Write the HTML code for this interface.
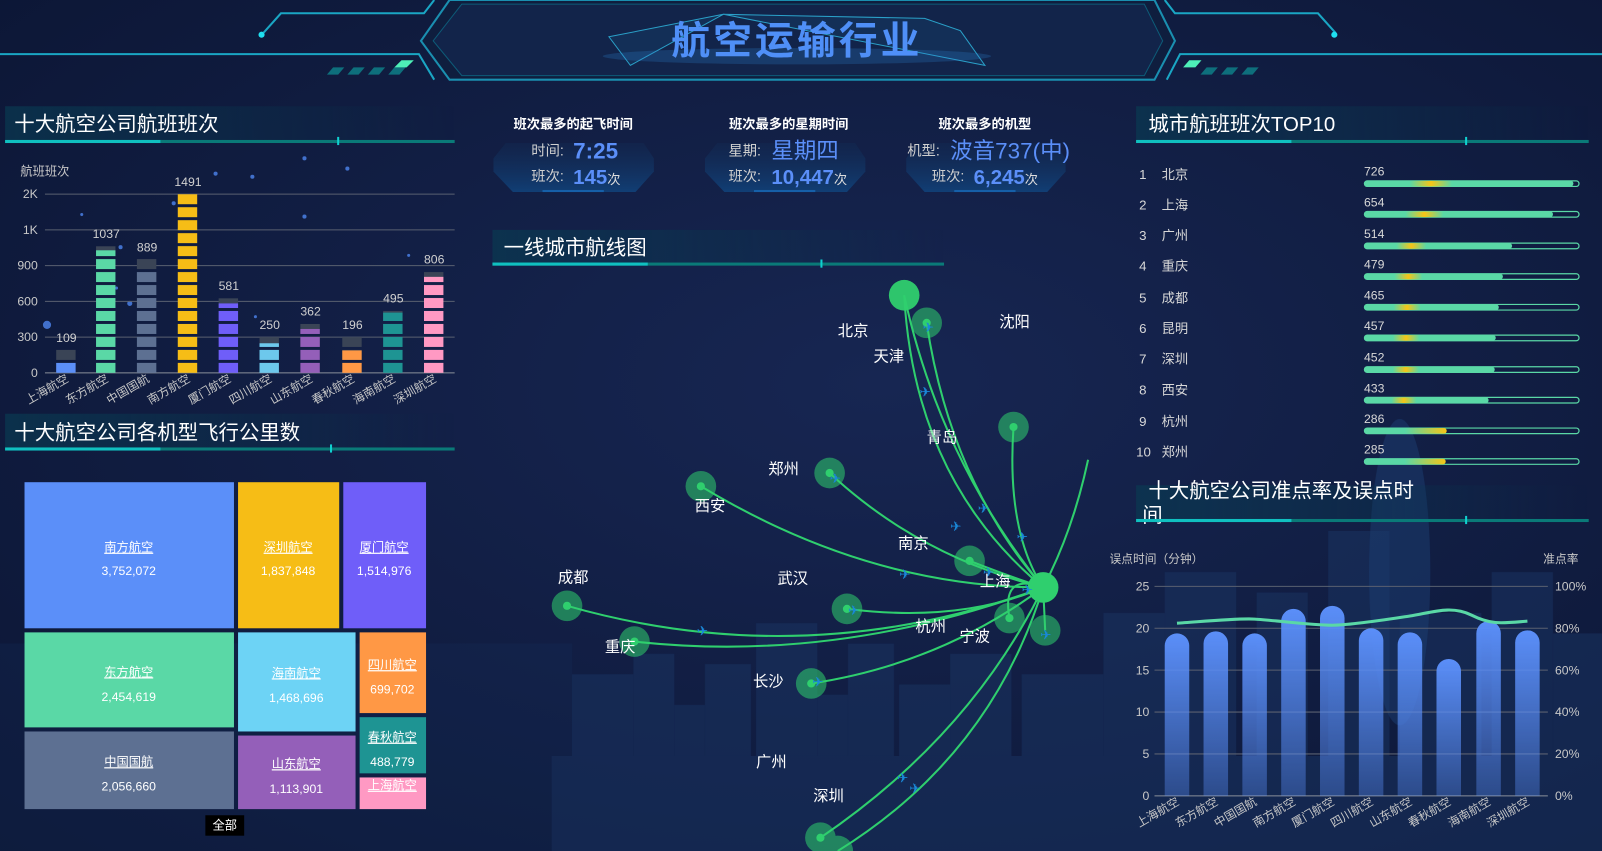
<!DOCTYPE html>
<html><head><meta charset="utf-8"><style>
html,body{margin:0;padding:0;background:#0e1a3c;overflow:hidden}
svg{display:block}
text{font-family:"Liberation Sans","Noto Sans CJK SC",sans-serif}
</style></head><body>
<svg width="1602" height="851" viewBox="0 0 1568 833" preserveAspectRatio="none" xmlns="http://www.w3.org/2000/svg">
<defs>
<radialGradient id="bg" cx="0.55" cy="0.45" r="0.8"><stop offset="0" stop-color="#172652"/><stop offset="1" stop-color="#0b1533"/></radialGradient>
<linearGradient id="hl" x1="0" x2="1"><stop offset="0" stop-color="#0a3a52" stop-opacity="0.7"/><stop offset="1" stop-color="#0a3a52" stop-opacity="0"/></linearGradient>
<linearGradient id="bb" x1="0" y1="0" x2="0" y2="1"><stop offset="0" stop-color="#5b8ff9"/><stop offset="1" stop-color="#5b8ff9" stop-opacity="0.35"/></linearGradient>
<linearGradient id="box" x1="0" y1="0" x2="0" y2="1"><stop offset="0" stop-color="#13305a" stop-opacity="0.3"/><stop offset="1" stop-color="#11427a" stop-opacity="0.9"/></linearGradient>
<linearGradient id="pg" x1="0" x2="1"><stop offset="0" stop-color="#5ad8a6"/><stop offset="0.22" stop-color="#5ad8a6"/><stop offset="0.32" stop-color="#f6c516"/><stop offset="0.42" stop-color="#5ad8a6"/><stop offset="1" stop-color="#5ad8a6"/></linearGradient>
<pattern id="seg" patternUnits="userSpaceOnUse" x="0" y="365" width="20" height="12.7"><rect x="0" y="2.9" width="20" height="9.8" fill="#fff"/></pattern>
<mask id="segm"><rect x="0" y="150" width="460" height="220" fill="url(#seg)"/></mask>
</defs>
<rect width="1568" height="833" fill="url(#bg)"/>
<!-- city silhouette -->
<g fill="#1a3462" opacity="0.55">
<rect x="560" y="660" width="60" height="173"/><rect x="620" y="640" width="40" height="193"/><rect x="660" y="690" width="30" height="143"/><rect x="690" y="650" width="45" height="183"/><rect x="740" y="610" width="60" height="223"/><rect x="800" y="680" width="30" height="153"/><rect x="830" y="630" width="45" height="203"/><rect x="880" y="670" width="50" height="163"/><rect x="930" y="640" width="60" height="193"/><rect x="1000" y="660" width="80" height="173"/><rect x="1080" y="600" width="60" height="233"/><rect x="1140" y="560" width="70" height="273"/><rect x="1230" y="580" width="50" height="253"/><rect x="1300" y="520" width="60" height="313"/><rect x="1370" y="600" width="80" height="233"/><rect x="1460" y="560" width="60" height="273"/><rect x="1520" y="620" width="48" height="213"/>
<rect x="0" y="630" width="560" height="203" opacity="0.4"/>
<rect x="540" y="740" width="1028" height="93"/>
</g>
<ellipse cx="1370" cy="560" rx="30" ry="150" fill="#1c3d72" opacity="0.5"/>
<!-- stars -->
<g fill="#4e86f0" opacity="0.8">
<circle cx="46" cy="318" r="4"/><circle cx="127" cy="297" r="2.5"/><circle cx="211" cy="170" r="2"/><circle cx="247" cy="173" r="2"/><circle cx="298" cy="155" r="2"/><circle cx="340" cy="165" r="2"/><circle cx="298" cy="212" r="2"/><circle cx="118" cy="242" r="2"/><circle cx="170" cy="199" r="2"/><circle cx="114" cy="282" r="1.5"/><circle cx="80" cy="210" r="1.5"/><circle cx="250" cy="310" r="1.5"/><circle cx="400" cy="250" r="1.5"/></g>

<!-- HEADER -->
<path d="M440 0 L1130 0 L1150 40 L1130 78 L440 78 L412 40 Z" fill="#0f1e3e" stroke="#1a8fb0" stroke-width="2"/>
<path d="M452 4 L1120 4 L1138 40 L1120 74 L452 74 L424 40 Z" fill="#12244a" stroke="#0d5b78" stroke-width="1"/>
<g stroke="#1aa6c4" stroke-width="2" fill="none">
<path d="M0 53 L410 53 L425 78"/><path d="M258 32 L275 13 L415 13 L425 0"/>
<path d="M1568 53 L1155 53 L1142 78"/><path d="M1307 32 L1290 13 L1150 13 L1140 0"/>
</g>
<circle cx="256" cy="34" r="3" fill="#1fe0f0"/><circle cx="1306" cy="34" r="3" fill="#1fe0f0"/>
<g fill="#0e6f7c"><path d="M320 73 L326 66 L337 66 L331 73Z"/><path d="M340 73 L346 66 L357 66 L351 73Z"/><path d="M360 73 L366 66 L377 66 L371 73Z"/><path d="M380 73 L386 66 L397 66 L391 73Z"/>
<path d="M1175 73 L1181 66 L1192 66 L1186 73Z"/><path d="M1195 73 L1201 66 L1212 66 L1206 73Z"/><path d="M1215 73 L1221 66 L1232 66 L1226 73Z"/></g>
<path d="M386 66 L398 66 L405 59 L393 59Z" fill="#4ef0b8"/><path d="M1158 66 L1170 66 L1176 59 L1164 59Z" fill="#4ef0b8"/>
<g stroke="#2aa0c8" stroke-width="1" fill="#1a6fa0" fill-opacity="0.15"><path d="M596 36 L708 14 L617 64 Z"/><path d="M708 14 L905 18 L940 30 L964 64 Z"/></g>
<ellipse cx="780" cy="55" rx="190" ry="8" fill="#2a7fd0" opacity="0.25"/>
<text x="780" y="53" font-size="38" font-weight="bold" fill="#4f8ff7" text-anchor="middle" letter-spacing="3">航空运输行业</text>

<!-- SECTION TITLES -->
<g font-size="20" fill="#ffffff">
<rect x="5" y="104" width="440" height="34" fill="url(#hl)"/>
<text x="14" y="128">十大航空公司航班班次</text>
<rect x="5" y="405" width="440" height="34" fill="url(#hl)"/>
<text x="14" y="430">十大航空公司各机型飞行公里数</text>
<rect x="482" y="225" width="442" height="33" fill="url(#hl)"/>
<text x="493" y="249">一线城市航线图</text>
<rect x="1112" y="104" width="443" height="34" fill="url(#hl)"/>
<text x="1124" y="128">城市航班班次TOP10</text>
<rect x="1112" y="475" width="443" height="34" fill="url(#hl)"/>
<text x="1124" y="487">十大航空公司准点率及误点时</text>
<text x="1118" y="511">间</text>
</g>
<g>
<rect x="5" y="137" width="440" height="3" fill="#0a7a78"/><rect x="5" y="137" width="152" height="3" fill="#10c0c0"/><rect x="330" y="134" width="2" height="8" fill="#10d0d0"/>
<rect x="5" y="438" width="440" height="3" fill="#0a7a78"/><rect x="5" y="438" width="152" height="3" fill="#10c0c0"/><rect x="323" y="435" width="2" height="8" fill="#10d0d0"/>
<rect x="482" y="257" width="442" height="3" fill="#0a7a78"/><rect x="482" y="257" width="152" height="3" fill="#10c0c0"/><rect x="803" y="254" width="2" height="8" fill="#10d0d0"/>
<rect x="1112" y="137" width="443" height="3" fill="#0a7a78"/><rect x="1112" y="137" width="152" height="3" fill="#10c0c0"/><rect x="1434" y="134" width="2" height="8" fill="#10d0d0"/>
<rect x="1112" y="508" width="443" height="3" fill="#0a7a78"/><rect x="1112" y="508" width="152" height="3" fill="#10c0c0"/><rect x="1434" y="505" width="2" height="8" fill="#10d0d0"/>
</g>

<!-- CHART 1 -->
<text x="20" y="172" font-size="12" fill="#c8c8c8">航班班次</text>
<g stroke="#5a6070" stroke-width="1">
<line x1="44" y1="190" x2="445" y2="190"/><line x1="44" y1="225" x2="445" y2="225"/><line x1="44" y1="260" x2="445" y2="260"/><line x1="44" y1="295" x2="445" y2="295"/><line x1="44" y1="330" x2="445" y2="330"/><line x1="44" y1="365" x2="445" y2="365" stroke="#8a909a"/></g>
<g font-size="12" fill="#c8c8c8" text-anchor="end">
<text x="37" y="194">2K</text><text x="37" y="229">1K</text><text x="37" y="264">900</text><text x="37" y="299">600</text><text x="37" y="334">300</text><text x="37" y="369">0</text></g>
<g mask="url(#segm)">
<g fill="#3a4456">
<rect x="55" y="342" width="19" height="23"/><rect x="94" y="241" width="19" height="24"/><rect x="134" y="253" width="19" height="24"/><rect x="214" y="292" width="19" height="24"/><rect x="254" y="330" width="19" height="24"/><rect x="294" y="317" width="19" height="24"/><rect x="335" y="330" width="19" height="24"/><rect x="375" y="304" width="19" height="24"/><rect x="415" y="266" width="19" height="24"/></g>
<rect x="55" y="355" width="19" height="10" fill="#5b8ff9"/>
<rect x="94" y="245" width="19" height="120" fill="#5ad8a6"/>
<rect x="134" y="266" width="19" height="99" fill="#5d7092"/>
<rect x="174" y="190" width="19" height="175" fill="#f6bd16"/>
<rect x="214" y="297" width="19" height="68" fill="#6f5ef9"/>
<rect x="254" y="336" width="19" height="29" fill="#6dc8ec"/>
<rect x="294" y="322" width="19" height="43" fill="#945fb9"/>
<rect x="335" y="343" width="19" height="22" fill="#ff9845"/>
<rect x="375" y="306" width="19" height="59" fill="#1e9493"/>
<rect x="415" y="271" width="19" height="94" fill="#ff99c3"/>
</g>
<g font-size="12" fill="#d0d0d0" text-anchor="middle">
<text x="65" y="335">109</text><text x="104" y="233">1037</text><text x="144" y="246">889</text><text x="184" y="182">1491</text><text x="224" y="284">581</text><text x="264" y="322">250</text><text x="304" y="309">362</text><text x="345" y="322">196</text><text x="385" y="296">495</text><text x="425" y="258">806</text></g>
<g font-size="11.5" fill="#c8c8c8" text-anchor="end">
<text transform="translate(68 373) rotate(-30)">上海航空</text><text transform="translate(107 373) rotate(-30)">东方航空</text><text transform="translate(147 373) rotate(-30)">中国国航</text><text transform="translate(187 373) rotate(-30)">南方航空</text><text transform="translate(227 373) rotate(-30)">厦门航空</text><text transform="translate(267 373) rotate(-30)">四川航空</text><text transform="translate(307 373) rotate(-30)">山东航空</text><text transform="translate(348 373) rotate(-30)">春秋航空</text><text transform="translate(388 373) rotate(-30)">海南航空</text><text transform="translate(428 373) rotate(-30)">深圳航空</text></g>

<!-- TREEMAP -->
<rect x="24" y="472" width="205" height="143" fill="#5b8ff9"/>
<rect x="233" y="472" width="99" height="143" fill="#f6bd16"/>
<rect x="336" y="472" width="81" height="143" fill="#6f5ef9"/>
<rect x="24" y="619" width="205" height="93" fill="#5ad8a6"/>
<rect x="24" y="716" width="205" height="76" fill="#5d7092"/>
<rect x="233" y="619" width="115" height="97" fill="#6dd3f5"/>
<rect x="233" y="720" width="115" height="72" fill="#945fb9"/>
<rect x="352" y="619" width="65" height="79" fill="#ff9845"/>
<rect x="352" y="702" width="65" height="55" fill="#1e9493"/>
<rect x="352" y="761" width="65" height="31" fill="#ff99c3"/>
<g font-size="12" fill="#ffffff" text-anchor="middle" text-decoration="underline">
<text x="126" y="540">南方航空</text><text x="282" y="540">深圳航空</text><text x="376" y="540">厦门航空</text>
<text x="126" y="662">东方航空</text><text x="126" y="750">中国国航</text><text x="290" y="663">海南航空</text><text x="290" y="752">山东航空</text>
<text x="384" y="655">四川航空</text><text x="384" y="726">春秋航空</text><text x="384" y="773">上海航空</text></g>
<g font-size="12" fill="#ffffff" text-anchor="middle">
<text x="126" y="563">3,752,072</text><text x="282" y="563">1,837,848</text><text x="376" y="563">1,514,976</text>
<text x="126" y="686">2,454,619</text><text x="126" y="774">2,056,660</text><text x="290" y="687">1,468,696</text><text x="290" y="776">1,113,901</text>
<text x="384" y="679">699,702</text><text x="384" y="750">488,779</text></g>
<rect x="201" y="798" width="38" height="20" fill="#000"/><text x="220" y="812" font-size="12" fill="#fff" text-anchor="middle">全部</text>

<!-- STAT BOXES -->
<g fill="url(#box)">
<path d="M495 140 L630 140 L640 155 L640 168 L622 188 L502 188 L483 168 L483 155Z"/>
<path d="M702 140 L837 140 L847 155 L847 168 L829 188 L709 188 L690 168 L690 155Z"/>
<path d="M897 140 L1033 140 L1043 155 L1043 168 L1025 188 L905 188 L887 168 L887 155Z"/>
</g>
<g fill="#1a6fc0" opacity="0.7"><rect x="531" y="186" width="60" height="2"/><rect x="738" y="186" width="60" height="2"/><rect x="934" y="186" width="60" height="2"/></g>
<g font-size="13" font-weight="bold" fill="#fff" text-anchor="middle">
<text x="561" y="126">班次最多的起飞时间</text><text x="772" y="126">班次最多的星期时间</text><text x="964" y="126">班次最多的机型</text></g>
<g font-size="14" fill="#cfcfcf">
<text x="520" y="152">时间:</text><text x="520" y="177">班次:</text>
<text x="713" y="152">星期:</text><text x="713" y="177">班次:</text>
<text x="888" y="152">机型:</text><text x="912" y="177">班次:</text></g>
<g fill="#5b8ff9" font-family="Liberation Mono,monospace">
<text x="561" y="155" font-size="22" font-weight="bold">7:25</text>
<text x="561" y="180" font-size="20" font-weight="bold">145<tspan font-size="13" fill="#ddd" font-weight="normal">次</tspan></text>
<text x="755" y="155" font-size="22">星期四</text>
<text x="755" y="180" font-size="20" font-weight="bold">10,447<tspan font-size="13" fill="#ddd" font-weight="normal">次</tspan></text>
<text x="930" y="155" font-size="22">波音737(中)</text>
<text x="953" y="180" font-size="20" font-weight="bold">6,245<tspan font-size="13" fill="#ddd" font-weight="normal">次</tspan></text>
</g>

<!-- MAP -->
<g fill="none" stroke="#2fcf6e" stroke-width="2">
<path d="M885 289 Q895 470 1021 575"/><path d="M885 289 Q920 450 1021 575"/><path d="M907 316 Q930 470 1021 575"/>
<path d="M992 418 Q985 520 1021 575"/><path d="M812 463 Q900 545 1021 575"/><path d="M686 476 Q850 575 1021 575"/>
<path d="M949 549 Q990 565 1021 575"/><path d="M829 596 Q940 610 1021 575"/><path d="M555 593 Q790 660 1021 575"/>
<path d="M621 628 Q820 650 1021 575"/><path d="M794 669 Q920 650 1021 575"/><path d="M988 605 Q980 560 1021 575"/>
<path d="M1023 617 L1021 575"/><path d="M803 820 Q950 720 1021 575"/><path d="M820 833 Q970 740 1021 575"/><path d="M1021 575 Q1050 520 1065 450"/>
</g>
<g fill="#2fcf6e">
<circle cx="885" cy="289" r="15" opacity="0.95"/>
<g opacity="0.55"><circle cx="907" cy="316" r="15"/><circle cx="992" cy="418" r="15"/><circle cx="812" cy="463" r="15"/><circle cx="686" cy="476" r="15"/><circle cx="949" cy="549" r="15"/><circle cx="829" cy="596" r="15"/><circle cx="988" cy="605" r="15"/><circle cx="1023" cy="617" r="15"/><circle cx="555" cy="593" r="15"/><circle cx="621" cy="628" r="15"/><circle cx="794" cy="669" r="15"/><circle cx="803" cy="820" r="15"/><circle cx="820" cy="833" r="15"/></g>
<circle cx="907" cy="316" r="4"/><circle cx="992" cy="418" r="4"/><circle cx="812" cy="463" r="4"/><circle cx="686" cy="476" r="4"/><circle cx="949" cy="549" r="4"/><circle cx="829" cy="596" r="4"/><circle cx="988" cy="605" r="4"/><circle cx="555" cy="593" r="4"/><circle cx="621" cy="628" r="4"/><circle cx="794" cy="669" r="4"/><circle cx="803" cy="820" r="4"/>
<circle cx="1021" cy="575" r="15"/>
</g>
<g font-size="13" fill="#1a88d8" font-family="DejaVu Sans,sans-serif">
<text x="900" y="388">✈</text><text x="930" y="520">✈</text><text x="957" y="502">✈</text><text x="995" y="530">✈</text><text x="880" y="567">✈</text><text x="962" y="565">✈</text><text x="812" y="473">✈</text><text x="682" y="622">✈</text><text x="795" y="672">✈</text><text x="878" y="766">✈</text><text x="890" y="776">✈</text><text x="1018" y="626">✈</text><text x="830" y="602">✈</text><text x="1000" y="582">✈</text><text x="903" y="325">✈</text></g>
<g font-size="15" fill="#ffffff">
<text x="820" y="329">北京</text><text x="978" y="320">沈阳</text><text x="855" y="354">天津</text><text x="907" y="433">青岛</text><text x="752" y="464">郑州</text><text x="680" y="500">西安</text><text x="879" y="537">南京</text><text x="761" y="571">武汉</text><text x="546" y="570">成都</text><text x="959" y="574">上海</text><text x="896" y="618">杭州</text><text x="939" y="628">宁波</text><text x="592" y="638">重庆</text><text x="737" y="672">长沙</text><text x="740" y="751">广州</text><text x="796" y="784">深圳</text></g>

<!-- TOP10 -->
<g font-size="13" fill="#d8d8d8">
<text x="1115" y="175">1</text><text x="1137" y="175">北京</text>
<text x="1115" y="205">2</text><text x="1137" y="205">上海</text>
<text x="1115" y="235">3</text><text x="1137" y="235">广州</text>
<text x="1115" y="265">4</text><text x="1137" y="265">重庆</text>
<text x="1115" y="296">5</text><text x="1137" y="296">成都</text>
<text x="1115" y="326">6</text><text x="1137" y="326">昆明</text>
<text x="1115" y="356">7</text><text x="1137" y="356">深圳</text>
<text x="1115" y="386">8</text><text x="1137" y="386">西安</text>
<text x="1115" y="417">9</text><text x="1137" y="417">杭州</text>
<text x="1112" y="447">10</text><text x="1137" y="447">郑州</text></g>
<g font-size="12" fill="#d8d8d8">
<text x="1335" y="172">726</text><text x="1335" y="202">654</text><text x="1335" y="233">514</text><text x="1335" y="263">479</text><text x="1335" y="293">465</text><text x="1335" y="323">457</text><text x="1335" y="354">452</text><text x="1335" y="384">433</text><text x="1335" y="414">286</text><text x="1335" y="444">285</text></g>
<g fill="none" stroke="#5ad8a6" stroke-width="1.2">
<rect x="1335.5" y="177" width="210" height="5.5" rx="2.7"/><rect x="1335.5" y="207" width="210" height="5.5" rx="2.7"/><rect x="1335.5" y="238" width="210" height="5.5" rx="2.7"/><rect x="1335.5" y="268" width="210" height="5.5" rx="2.7"/><rect x="1335.5" y="298" width="210" height="5.5" rx="2.7"/><rect x="1335.5" y="328" width="210" height="5.5" rx="2.7"/><rect x="1335.5" y="359" width="210" height="5.5" rx="2.7"/><rect x="1335.5" y="389" width="210" height="5.5" rx="2.7"/><rect x="1335.5" y="419" width="210" height="5.5" rx="2.7"/><rect x="1335.5" y="449" width="210" height="5.5" rx="2.7"/></g>
<g fill="url(#pg)">
<rect x="1335" y="177" width="205" height="5.5" rx="2.7"/><rect x="1335" y="207" width="185" height="5.5" rx="2.7"/><rect x="1335" y="238" width="145" height="5.5" rx="2.7"/><rect x="1335" y="268" width="136" height="5.5" rx="2.7"/><rect x="1335" y="298" width="132" height="5.5" rx="2.7"/><rect x="1335" y="328" width="129" height="5.5" rx="2.7"/><rect x="1335" y="359" width="128" height="5.5" rx="2.7"/><rect x="1335" y="389" width="122" height="5.5" rx="2.7"/></g>
<linearGradient id="pg2" x1="0" x2="1"><stop offset="0" stop-color="#5ad8a6"/><stop offset="0.5" stop-color="#5ad8a6"/><stop offset="1" stop-color="#f6c516"/></linearGradient>
<rect x="1335" y="419" width="81" height="5.5" rx="2.7" fill="url(#pg2)"/><rect x="1335" y="449" width="80" height="5.5" rx="2.7" fill="url(#pg2)"/>

<!-- CHART 4 -->
<text x="1086" y="551" font-size="11.5" fill="#c8c8c8">误点时间（分钟）</text>
<text x="1545" y="551" font-size="11.5" fill="#c8c8c8" text-anchor="end">准点率</text>
<g stroke="#5a6070" stroke-width="1">
<line x1="1130" y1="574" x2="1515" y2="574"/><line x1="1130" y1="615" x2="1515" y2="615"/><line x1="1130" y1="656" x2="1515" y2="656"/><line x1="1130" y1="697" x2="1515" y2="697"/><line x1="1130" y1="738" x2="1515" y2="738"/><line x1="1130" y1="779" x2="1515" y2="779" stroke="#8a909a"/></g>
<g font-size="12" fill="#c8c8c8" text-anchor="end">
<text x="1125" y="578">25</text><text x="1125" y="619">20</text><text x="1125" y="660">15</text><text x="1125" y="701">10</text><text x="1125" y="742">5</text><text x="1125" y="783">0</text></g>
<g font-size="12" fill="#c8c8c8">
<text x="1522" y="578">100%</text><text x="1522" y="619">80%</text><text x="1522" y="660">60%</text><text x="1522" y="701">40%</text><text x="1522" y="742">20%</text><text x="1522" y="783">0%</text></g>
<g fill="url(#bb)">
<path d="M1140 779 V632 a12 12 0 0 1 24 0 V779Z"/><path d="M1178 779 V630 a12 12 0 0 1 24 0 V779Z"/><path d="M1216 779 V632 a12 12 0 0 1 24 0 V779Z"/><path d="M1254 779 V608 a12 12 0 0 1 24 0 V779Z"/><path d="M1292 779 V605 a12 12 0 0 1 24 0 V779Z"/><path d="M1330 779 V627 a12 12 0 0 1 24 0 V779Z"/><path d="M1368 779 V631 a12 12 0 0 1 24 0 V779Z"/><path d="M1406 779 V657 a12 12 0 0 1 24 0 V779Z"/><path d="M1445 779 V620 a12 12 0 0 1 24 0 V779Z"/><path d="M1483 779 V629 a12 12 0 0 1 24 0 V779Z"/></g>
<path d="M1152 610 C1170 609,1210 605,1228 606 S1285 612,1304 612 S1360 606,1380 603 S1420 592,1440 602 S1470 610,1495 608" fill="none" stroke="#5ad8a6" stroke-width="3"/>
<g font-size="11.5" fill="#c8c8c8" text-anchor="end">
<text transform="translate(1155 787) rotate(-30)">上海航空</text><text transform="translate(1193 787) rotate(-30)">东方航空</text><text transform="translate(1231 787) rotate(-30)">中国国航</text><text transform="translate(1269 787) rotate(-30)">南方航空</text><text transform="translate(1307 787) rotate(-30)">厦门航空</text><text transform="translate(1345 787) rotate(-30)">四川航空</text><text transform="translate(1383 787) rotate(-30)">山东航空</text><text transform="translate(1421 787) rotate(-30)">春秋航空</text><text transform="translate(1460 787) rotate(-30)">海南航空</text><text transform="translate(1498 787) rotate(-30)">深圳航空</text></g>
</svg>
</body></html>
